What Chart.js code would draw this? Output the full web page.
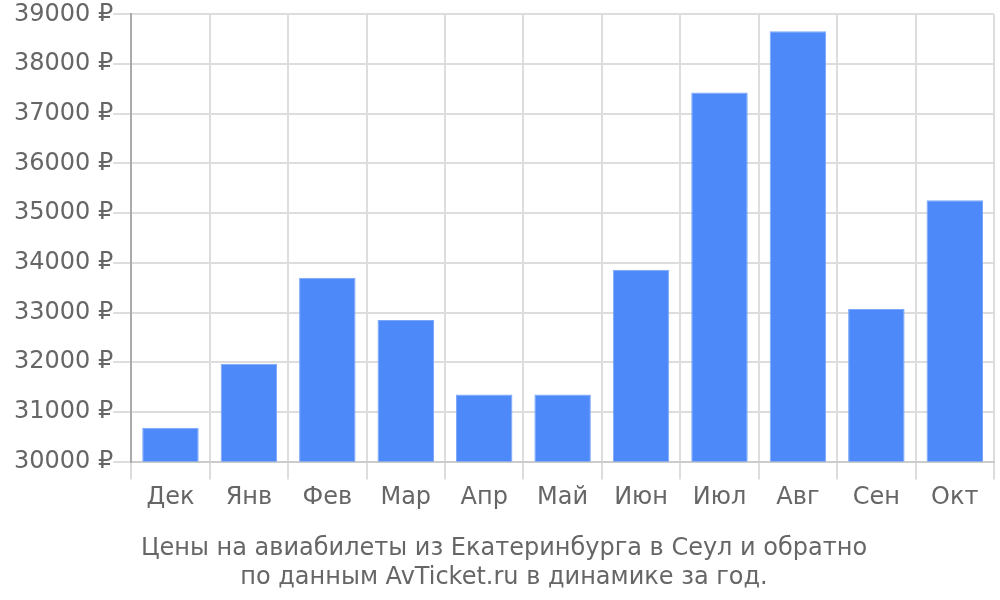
<!DOCTYPE html>
<html lang="ru">
<head>
    <meta charset="UTF-8">
    <title>Цены на авиабилеты</title>
    <style>
        html, body { margin: 0; padding: 0; background: #fff; }
        .grafico { width: 1000px; height: 600px; }
    </style>
</head>
<body>
    <div class="grafico">
        <canvas id="grafico-precos"></canvas>
    </div>
<script src="https://cdn.jsdelivr.net/npm/chart.js"></script>
<script>
    // meses e precos (rublos)
    var meses = ['Дек', 'Янв', 'Фев', 'Мар', 'Апр', 'Май', 'Июн', 'Июл', 'Авг', 'Сен', 'Окт'];
    var precos = [30680, 31970, 33700, 32850, 31350, 31350, 33860, 37430, 38660, 33070, 35260];
    var titulo = ['Цены на авиабилеты из Екатеринбурга в Сеул и обратно', 'по данным AvTicket.ru в динамике за год.'];

    Chart.defaults.font.family = 'DejaVu Sans';
    Chart.defaults.color = '#666';

    var grafico = new Chart(document.getElementById('grafico-precos'), {
        type: 'bar',
        data: {
            labels: meses,
            datasets: [{
                label: 'Цена',
                data: precos,
                backgroundColor: '#4d89f9',
                borderColor: '#7aa6fb',
                borderWidth: 1
            }]
        },
        options: {
            responsive: true,
            maintainAspectRatio: false,
            animation: false,
            layout: {
                padding: { top: 4, right: 6, left: 14, bottom: 8 }
            },
            plugins: {
                legend: { display: false },
                tooltip: { enabled: false },
                title: {
                    display: true,
                    position: 'bottom',
                    text: titulo,
                    color: '#666',
                    font: { size: 24, weight: 'normal', lineHeight: 1.2 },
                    padding: { top: 18, bottom: 0 }
                }
            },
            scales: {
                x: {
                    grid: { color: '#ddd', lineWidth: 2, tickLength: 18 },
                    border: { color: '#ccc', width: 2 },
                    ticks: { font: { size: 24 }, padding: 4 }
                },
                y: {
                    min: 30000,
                    max: 39000,
                    grid: { color: '#ddd', lineWidth: 2, tickLength: 18 },
                    border: { color: '#aaa', width: 2 },
                    ticks: {
                        stepSize: 1000,
                        font: { size: 24 },
                        padding: 0,
                        callback: function (valor) { return valor + ' ₽'; }
                    }
                }
            }
        }
    });
</script>
</body>
</html>
